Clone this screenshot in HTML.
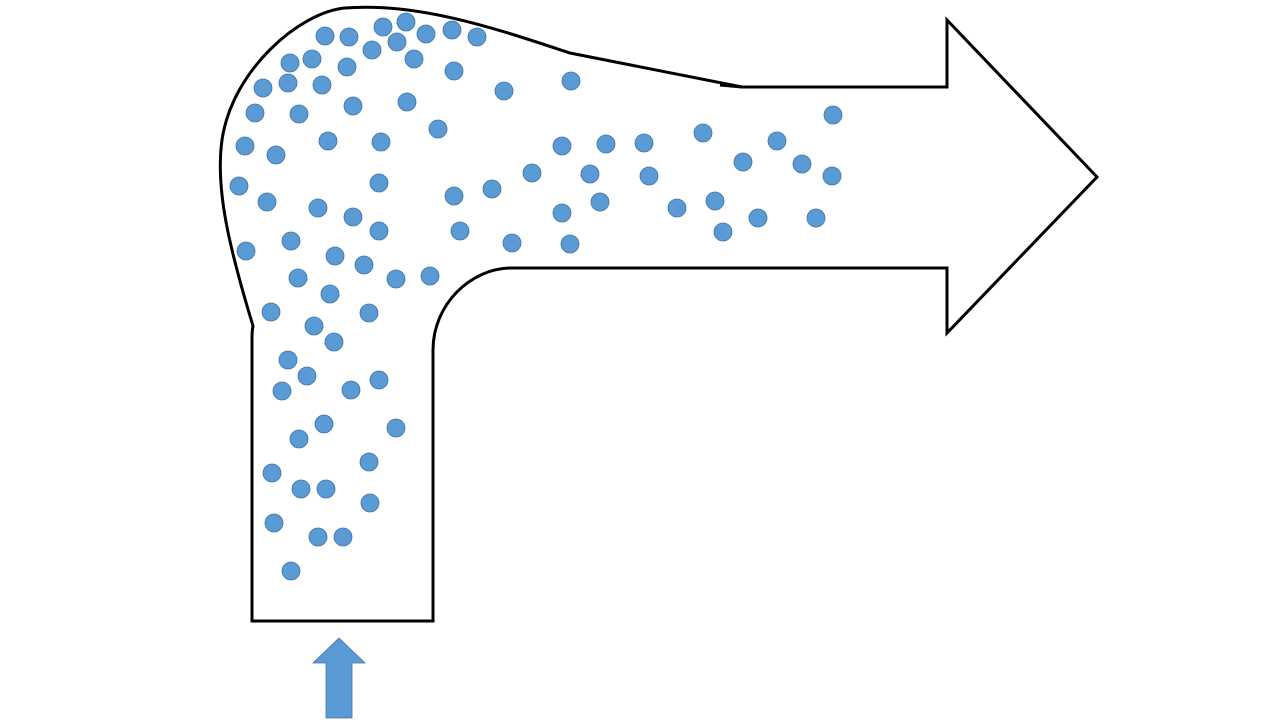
<!DOCTYPE html>
<html><head><meta charset="utf-8"><style>html,body{margin:0;padding:0;background:#fff;}svg{display:block}</style></head>
<body>
<svg width="1280" height="720" viewBox="0 0 1280 720" xmlns="http://www.w3.org/2000/svg">
<path d="M252,621 L252,340 Q252,330 253,326 C230,250 215,190 222,140 C232,70 300,12 345,8 C420,2 500,30 570,53 L742,87 L947,87 L947,20 L1097,177 L947,333 L947,268 L512,268 C470,268 433,305 433,350 L433,621 Z" fill="none" stroke="#000" stroke-width="3" stroke-linejoin="miter"/>
<path d="M720,85 L742,87" fill="none" stroke="#000" stroke-width="3"/>
<g fill="#5b9bd5" stroke="#41719c" stroke-width="0.8">
<circle cx="325" cy="36" r="9"/><circle cx="349" cy="37" r="9"/><circle cx="383" cy="27" r="9"/><circle cx="406" cy="22" r="9"/><circle cx="426" cy="34" r="9"/><circle cx="452" cy="30" r="9"/><circle cx="477" cy="37" r="9"/><circle cx="372" cy="50" r="9"/><circle cx="397" cy="42" r="9"/><circle cx="290" cy="63" r="9"/><circle cx="312" cy="59" r="9"/><circle cx="347" cy="67" r="9"/><circle cx="414" cy="59" r="9"/><circle cx="454" cy="71" r="9"/><circle cx="263" cy="88" r="9"/><circle cx="288" cy="83" r="9"/><circle cx="322" cy="85" r="9"/><circle cx="504" cy="91" r="9"/><circle cx="571" cy="81" r="9"/><circle cx="255" cy="113" r="9"/><circle cx="299" cy="114" r="9"/><circle cx="353" cy="106" r="9"/><circle cx="407" cy="102" r="9"/><circle cx="438" cy="129" r="9"/><circle cx="833" cy="115" r="9"/><circle cx="245" cy="146" r="9"/><circle cx="276" cy="155" r="9"/><circle cx="328" cy="141" r="9"/><circle cx="381" cy="142" r="9"/><circle cx="562" cy="146" r="9"/><circle cx="606" cy="144" r="9"/><circle cx="644" cy="143" r="9"/><circle cx="703" cy="133" r="9"/><circle cx="777" cy="141" r="9"/><circle cx="743" cy="162" r="9"/><circle cx="802" cy="164" r="9"/><circle cx="832" cy="176" r="9"/><circle cx="239" cy="186" r="9"/><circle cx="379" cy="183" r="9"/><circle cx="532" cy="173" r="9"/><circle cx="590" cy="174" r="9"/><circle cx="649" cy="176" r="9"/><circle cx="492" cy="189" r="9"/><circle cx="454" cy="196" r="9"/><circle cx="600" cy="202" r="9"/><circle cx="267" cy="202" r="9"/><circle cx="318" cy="208" r="9"/><circle cx="353" cy="217" r="9"/><circle cx="379" cy="231" r="9"/><circle cx="562" cy="213" r="9"/><circle cx="677" cy="208" r="9"/><circle cx="715" cy="201" r="9"/><circle cx="758" cy="218" r="9"/><circle cx="816" cy="218" r="9"/><circle cx="723" cy="232" r="9"/><circle cx="460" cy="231" r="9"/><circle cx="512" cy="243" r="9"/><circle cx="570" cy="244" r="9"/><circle cx="246" cy="251" r="9"/><circle cx="291" cy="241" r="9"/><circle cx="335" cy="256" r="9"/><circle cx="364" cy="265" r="9"/><circle cx="298" cy="278" r="9"/><circle cx="396" cy="279" r="9"/><circle cx="430" cy="276" r="9"/><circle cx="330" cy="294" r="9"/><circle cx="271" cy="312" r="9"/><circle cx="369" cy="313" r="9"/><circle cx="314" cy="326" r="9"/><circle cx="334" cy="342" r="9"/><circle cx="288" cy="360" r="9"/><circle cx="307" cy="376" r="9"/><circle cx="282" cy="391" r="9"/><circle cx="351" cy="390" r="9"/><circle cx="379" cy="380" r="9"/><circle cx="324" cy="424" r="9"/><circle cx="299" cy="439" r="9"/><circle cx="396" cy="428" r="9"/><circle cx="369" cy="462" r="9"/><circle cx="272" cy="473" r="9"/><circle cx="301" cy="489" r="9"/><circle cx="326" cy="489" r="9"/><circle cx="370" cy="503" r="9"/><circle cx="274" cy="523" r="9"/><circle cx="318" cy="537" r="9"/><circle cx="343" cy="537" r="9"/><circle cx="291" cy="571" r="9"/>
</g>
<path d="M326,718 L326,663 L313,663 L339,638 L365,663 L352,663 L352,718 Z" fill="#5b9bd5" stroke="#41719c" stroke-width="0.8"/>
</svg>
</body></html>
